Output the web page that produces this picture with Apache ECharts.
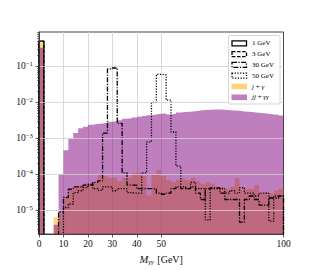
<!DOCTYPE html>
<html><head><meta charset="utf-8">
<script src="https://cdn.jsdelivr.net/npm/echarts@6/dist/echarts.min.js"></script>
<style>html,body{margin:0;padding:0;background:#fff}#c{width:315px;height:270px}</style>
</head><body><div id="c"></div>
<script>
// ---- data (2 GeV bins, left edges) ----
const binLeft = [0,2,4,6,8,10,12,14,16,18,20,22,24,26,28,30,32,34,36,38,40,42,44,46,48,
                 50,52,54,56,58,60,62,64,66,68,70,72,74,76,78,80,82,84,86,88,90,92,94,96,98];
const xTickLabels = [0,10,20,30,40,50,100];
const xGridVals = [10,20,30,40,50];
const yTickLabels = [1e-5,1e-4,1e-3,1e-2,1e-1];

const jGamma = [0.46,0,0,6.4e-6,8e-6,2.3e-5,3.9e-5,4.3e-5,5e-5,5.5e-5,
  5.5e-5,6e-5,1e-4,9e-5,8e-5,8e-5,6.5e-5,8e-5,8e-5,1.1e-4,
  1.1e-4,9e-5,2.6e-5,1e-4,1.3e-4,9e-5,7e-5,6e-5,7e-5,7.5e-5,
  7e-5,8e-5,6.5e-5,5.5e-5,6e-5,5.5e-5,4.5e-5,4.5e-5,4e-5,4.5e-5,
  7.8e-5,4e-5,4e-5,4e-5,5e-5,3e-5,3.2e-5,3e-5,3.5e-5,4e-5];
const jjGammaGamma = [0.33,0,0,4e-6,1e-4,4.7e-4,9.6e-4,1.4e-3,1.9e-3,2.1e-3,
  2.4e-3,2.5e-3,2.6e-3,2.7e-3,2.9e-3,3.0e-3,3.2e-3,3.5e-3,3.6e-3,3.8e-3,
  4.0e-3,4.2e-3,4.4e-3,4.6e-3,4.8e-3,4.9e-3,4.6e-3,4.8e-3,5.2e-3,5.4e-3,
  5.5e-3,5.7e-3,5.9e-3,6.1e-3,6.2e-3,6.3e-3,6.3e-3,6.2e-3,6.0e-3,5.9e-3,
  5.8e-3,5.6e-3,5.5e-3,5.3e-3,5.1e-3,5.0e-3,4.8e-3,4.6e-3,4.5e-3,4.3e-3];
const sig1GeV = [0.5,0,0,0,0,0,0,0,0,0,0,0,0,0,0,0,0,0,0,0,0,0,0,0,0,
  0,0,0,0,0,0,0,0,0,0,0,0,0,0,0,0,0,0,0,0,0,0,0,0,0];
const sig3GeV = [0.5,0,0,0,0,0,0,0,0,0,0,0,0,0,0,0,0,0,0,0,0,0,0,0,0,
  0,0,0,0,0,0,0,0,0,0,0,0,0,0,0,0,0,0,0,0,0,0,0,0,0];
const sig30GeV = [0,0,0,0,9e-6,2.3e-5,3.9e-5,4.5e-5,4.5e-5,5e-5,
  5e-5,6e-5,6.6e-5,1.4e-3,0.085,0.09,2.6e-3,1.1e-4,5e-5,5e-5,
  4e-5,4e-5,4e-5,4e-5,3e-5,2.8e-5,3e-5,4e-5,4.5e-5,4e-5,
  4e-5,4.5e-5,3e-5,2e-5,4e-5,4.2e-5,4.2e-5,3e-5,2e-5,2e-5,
  2e-5,4.7e-6,2e-5,2.5e-5,2e-5,1.4e-5,1.4e-5,2.2e-5,2.2e-5,2.5e-5];
const sig50GeV = [0,0,0,0,0,1.2e-5,1.5e-5,3.1e-5,3.5e-5,4.3e-5,
  5.3e-5,4e-5,3.6e-5,4.5e-5,4.5e-5,3.5e-5,4e-5,4e-5,3.1e-5,3e-5,
  3e-5,1.1e-4,8e-4,1e-2,0.06,0.058,0.0115,1.5e-3,1.7e-4,4.5e-5,
  4e-5,6e-5,4e-5,4e-5,5.4e-6,4e-5,4e-5,4e-5,3e-5,3.5e-5,
  3e-5,4.3e-5,3e-5,3e-5,2.5e-5,3e-5,3e-5,5e-6,2.5e-5,2.5e-5];

// ---- build ----
const X_MAX = 100, Y_MIN = 2.2e-6, Y_MAX = 0.9, FLOOR = 1e-9;
function stepPts(vals){
  const pts = [[binLeft[0], FLOOR]];
  vals.forEach((v,i)=>pts.push([binLeft[i], v>0?v:FLOOR]));
  const last = vals[vals.length-1]>0 ? vals[vals.length-1] : FLOOR;
  pts.push([X_MAX, last]); pts.push([X_MAX, FLOOR]);
  return pts;
}
const yMinor = [];
for (let e=-6; e<=-1; e++) for (let m=2; m<=9; m++){ const v=m*Math.pow(10,e); if(v>=Y_MIN && v<=Y_MAX) yMinor.push(v); }

const serif = 'Liberation Serif';
const supFmt = v => { const e = Math.round(Math.log10(v)); if (Math.abs(Math.log10(v)-e)>1e-6) return ''; return '{b|10}{s|' + (e<0?'\u2212':'') + Math.abs(e) + '}'; };

function areaSeries(name, vals, color, extra){
  return Object.assign({name, type:'line', step:'end', data:stepPts(vals), symbol:'none', silent:true,
    lineStyle:{width:0, opacity:0}, areaStyle:{color, opacity:1, origin:'start'}, clip:true, z:2}, extra||{});
}
function lineSeries(name, vals, type, z){
  return {name, type:'line', step:'end', data:stepPts(vals), symbol:'none', silent:true, clip:true, z:z,
    lineStyle:{color:'#000', width:1.3, type:type}};
}

const chart = echarts.init(document.getElementById('c'), null, {renderer:'svg', width:315, height:270});
const legendRows = [
  {label:'1 GeV', kind:'line', dash:null},
  {label:'3 GeV', kind:'line', dash:[3.5,1.6]},
  {label:'30 GeV', kind:'line', dash:[5,1.5,1.2,1.5]},
  {label:'50 GeV', kind:'line', dash:[1.2,1.5]},
  {label:'{i|j} + {i|\u03b3}', kind:'fill', color:'rgba(255,165,0,0.5)'},
  {label:'{i|jj} + {i|\u03b3\u03b3}', kind:'fill', color:'rgba(128,0,128,0.5)'}
];
const g = [{type:'rect', shape:{x:228.5,y:35.5,width:51.5,height:68.5,r:1.5}, style:{fill:'rgba(255,255,255,0.85)', stroke:'#cccccc', lineWidth:0.8}, z:50}];
legendRows.forEach((r,i)=>{
  const cy = 43.3 + i*10.8;
  if (r.kind==='line') g.push({type:'rect', shape:{x:232,y:cy-2.5,width:14.5,height:5}, style:{fill:'none', stroke:'#000', lineWidth:1.3, lineDash:r.dash}, z:51});
  else g.push({type:'rect', shape:{x:231.5,y:cy-2.8,width:15.5,height:5.6}, style:{fill:r.color}, z:51});
  g.push({type:'text', x:252, y:cy, style:{text:r.label, fontFamily:serif, fontSize:7, fill:'#000', verticalAlign:'middle', align:'left',
    rich:{i:{fontStyle:'italic', fontFamily:serif, fontSize:7}}}, z:51});
});

chart.setOption({
  animation:false,
  backgroundColor:'#fff',
  grid:{left:39, right:31.5, top:32, bottom:33, show:true, borderColor:'#333', borderWidth:0.9, backgroundColor:'transparent'},
  xAxis:{type:'value', min:0, max:X_MAX, interval:10, z:10,
    axisLine:{show:true, onZero:false, lineStyle:{color:'#333', width:0.9}},
    axisTick:{show:true, inside:false, length:3.5, customValues:xTickLabels, lineStyle:{color:'#333', width:0.8}},
    axisLabel:{customValues:xTickLabels, fontFamily:serif, fontSize:9.5, color:'#111', margin:5},
    splitLine:{show:false},
    name:'{m|M}{sub|\u03b3\u03b3} [GeV]', nameLocation:'middle', nameGap:20,
    nameTextStyle:{fontFamily:serif, fontSize:10, color:'#111',
      rich:{m:{fontStyle:'italic', fontFamily:serif, fontSize:10.5, color:'#111'}, sub:{fontStyle:'italic', fontFamily:serif, fontSize:7, color:'#111', padding:[4,1,0,0]}}}},
  yAxis:[{type:'log', logBase:10, min:Y_MIN, max:Y_MAX, z:10,
    axisLine:{show:true, lineStyle:{color:'#333', width:0.9}},
    axisTick:{show:true, length:3.5, customValues:yTickLabels, lineStyle:{color:'#333', width:0.8}},
    axisLabel:{customValues:yTickLabels, formatter:supFmt, margin:6,
      rich:{b:{fontFamily:serif, fontSize:9.5, color:'#111'}, s:{fontFamily:serif, fontSize:6.8, color:'#111', padding:[0,0,5,0]}}},
    splitLine:{show:true, lineStyle:{color:'#cfcfcf', width:0.8}}},
   {type:'log', logBase:10, min:Y_MIN, max:Y_MAX, position:'left', z:10,
    axisLine:{show:false}, axisLabel:{show:false}, splitLine:{show:false},
    axisTick:{show:true, length:2, customValues:yMinor, lineStyle:{color:'#333', width:0.6}}}],
  series:[
    areaSeries('j + \u03b3', jGamma, 'rgba(255,165,0,0.5)', {markLine:{silent:true, z:1, symbol:['none','none'], label:{show:false},
      lineStyle:{color:'#cfcfcf', width:0.8, type:'solid'}, data:xGridVals.map(v=>({xAxis:v}))}}),
    areaSeries('jj + \u03b3\u03b3', jjGammaGamma, 'rgba(128,0,128,0.5)'),
    lineSeries('1 GeV', sig1GeV, 'solid', 5),
    lineSeries('3 GeV', sig3GeV, [3.5,1.6], 5),
    lineSeries('30 GeV', sig30GeV, [5,1.5,1.2,1.5], 5),
    lineSeries('50 GeV', sig50GeV, [1.2,1.5], 5)
  ],
  graphic:g
});
</script></body></html>
